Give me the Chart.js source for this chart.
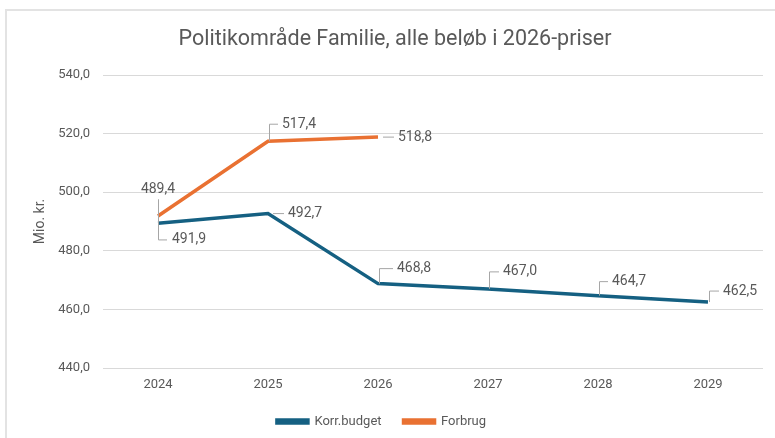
<!DOCTYPE html>
<html>
<head>
<meta charset="utf-8">
<script src="https://cdn.jsdelivr.net/npm/chart.js"></script>
<style>
  body { margin: 0; background: #fff; }
  #wrap { position: relative; width: 775px; height: 438px; }
  #frame { position: absolute; left: 5px; top: 9px; right: 0; bottom: 0;
           border-top: 2px solid #e3e3e3; border-left: 2px solid #e3e3e3; }
  #mychart { position: absolute; left: 0; top: 0; }
</style>
</head>
<body>
<div id="wrap">
  <div id="frame"></div>
  <canvas id="mychart" width="775" height="438"></canvas>
</div>
<script>
// data
var chartTitle = 'Politikområde Familie, alle beløb i 2026-priser';
var years = ['2024', '2025', '2026', '2027', '2028', '2029'];
var korrBudget = [489.4, 492.7, 468.8, 467.0, 464.7, 462.5];
var forbrug = [491.9, 517.4, 518.8, null, null, null];
var yTicks = [440, 460, 480, 500, 520, 540];

// where the data labels sit relative to their point (dx, dy, leader kind)
var blueLabelPos = [[0, -34, 'up'], [20, 0, 'side'], [19, -15, 'hook'], [15, -17, 'hook'], [14, -14, 'hook'], [15, -11, 'hook']];
var orangeLabelPos = [[14, 24, 'down'], [14, -17, 'hook'], [20, 0, 'side']];

var grey = '#595959';
var fontFam = 'Roboto, "Open Sans", sans-serif';

function fmt(v) { return v.toFixed(1).replace('.', ','); }

// title drawn by hand so it can sit where the original one is
var titlePlugin = {
  id: 'titlePlugin',
  afterDraw: function (chart) {
    var c = chart.ctx;
    c.save();
    c.font = '21.5px ' + fontFam;
    c.fillStyle = grey;
    c.textAlign = 'center';
    c.textBaseline = 'middle';
    c.fillText(chartTitle, 395, 40);
    c.restore();
  }
};

var dataLabels = {
  id: 'dataLabels',
  afterDatasetsDraw: function (chart) {
    var ctx = chart.ctx;
    ctx.save();
    ctx.font = '14px ' + fontFam;
    ctx.fillStyle = grey;
    ctx.strokeStyle = '#a6a6a6';
    ctx.lineWidth = 1;
    ctx.textBaseline = 'middle';
    [blueLabelPos, orangeLabelPos].forEach(function (posList, di) {
      var meta = chart.getDatasetMeta(di);
      var vals = chart.data.datasets[di].data;
      meta.data.forEach(function (pt, i) {
        if (vals[i] == null || !posList[i]) return;
        var dx = posList[i][0], dy = posList[i][1], kind = posList[i][2];
        var x = pt.x, y = pt.y;
        ctx.beginPath();
        if (kind === 'hook') {
          ctx.moveTo(x + 1.5, y);
          ctx.lineTo(x + 1.5, y + dy);
          ctx.lineTo(x + dx - 4, y + dy);
        } else if (kind === 'side') {
          ctx.moveTo(x + 5, y);
          ctx.lineTo(x + dx - 4, y);
        } else if (kind === 'up') {
          ctx.moveTo(x + 0.5, y);
          ctx.lineTo(x + 0.5, y + dy + 10);
        } else if (kind === 'down') {
          ctx.moveTo(x + 0.5, y);
          ctx.lineTo(x + 0.5, y + dy);
          ctx.lineTo(x + dx - 5, y + dy);
        }
        ctx.stroke();
        ctx.textAlign = kind === 'up' ? 'center' : 'left';
        ctx.fillText(fmt(vals[i]), x + dx, y + dy);
      });
    });
    ctx.restore();
  }
};

var ctx = document.getElementById('mychart');
var mychart = new Chart(ctx, {
  type: 'line',
  data: {
    labels: years,
    datasets: [{
      label: 'Korr.budget',
      data: korrBudget,
      borderColor: '#156082',
      backgroundColor: '#156082',
      borderWidth: 3.5,
      pointRadius: 0,
      tension: 0
    }, {
      label: 'Forbrug',
      data: forbrug,
      borderColor: '#E97132',
      backgroundColor: '#E97132',
      borderWidth: 3.5,
      pointRadius: 0,
      tension: 0
    }]
  },
  options: {
    responsive: false,
    animation: false,
    layout: { padding: { left: 0, right: 12, top: 75, bottom: 0 } },
    plugins: {
      title: { display: false },
      legend: {
        position: 'bottom',
        labels: {
          color: grey,
          font: { family: fontFam, size: 13 },
          boxWidth: 31,
          boxHeight: 3,
          padding: 22
        }
      },
      tooltip: { enabled: false }
    },
    scales: {
      x: {
        offset: true,
        grid: { display: false, drawTicks: false },
        border: { display: false },
        ticks: { color: grey, font: { family: fontFam, size: 13 }, padding: 9 },
        afterFit: function (scale) { scale.height = 25; }
      },
      y: {
        min: 440,
        max: 540,
        afterBuildTicks: function (scale) {
          scale.ticks = yTicks.map(function (v) { return { value: v }; });
        },
        grid: { color: '#d9d9d9', drawTicks: false },
        border: { display: false },
        ticks: {
          color: grey,
          font: { family: fontFam, size: 13 },
          padding: 13,
          callback: function (v) { return fmt(v); }
        },
        title: {
          display: true,
          text: 'Mio. kr.',
          color: grey,
          font: { family: fontFam, size: 14, lineHeight: 1.2 },
          padding: { top: 32, bottom: 0 }
        },
        afterFit: function (scale) { scale.width = 103; }
      }
    }
  },
  plugins: [dataLabels, titlePlugin]
});
</script>
</body>
</html>
